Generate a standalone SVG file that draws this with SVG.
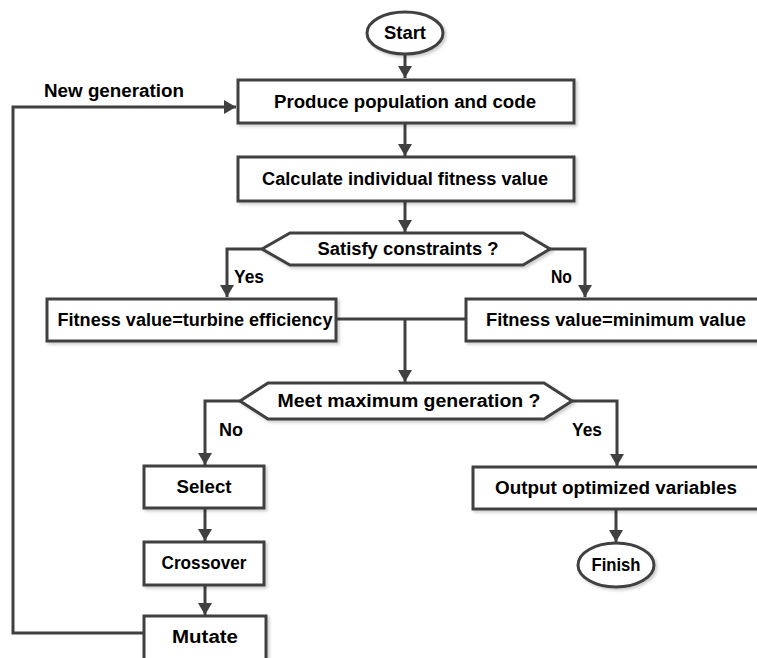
<svg xmlns="http://www.w3.org/2000/svg" width="757" height="658" viewBox="0 0 757 658">
<style>
.n{fill:#fff;stroke:#404040;stroke-width:3;filter:url(#sh)}
.c{fill:none;stroke:#404040;stroke-width:3}
.t{font-family:"Liberation Sans",Arial,sans-serif;font-weight:bold;font-size:18px;fill:#000;text-anchor:middle;dominant-baseline:central}
.l{font-family:"Liberation Sans",Arial,sans-serif;font-weight:bold;font-size:18px;fill:#000}
</style>
<defs>
<marker id="ar" markerUnits="userSpaceOnUse" markerWidth="14" markerHeight="14" refX="12" refY="7" orient="auto">
<path d="M0,0 L12,7 L0,14 Z" fill="#404040"/>
</marker>
<filter id="sh" x="-10%" y="-20%" width="130%" height="150%">
<feDropShadow dx="2" dy="2" stdDeviation="1.5" flood-color="#000" flood-opacity="0.2"/>
</filter>
</defs>
<rect width="757" height="658" fill="#fff"/>
<g id="connectors">
<path class="c" d="M405,54 V78" marker-end="url(#ar)"/>
<path class="c" d="M405,123 V156" marker-end="url(#ar)"/>
<path class="c" d="M405,201 V232" marker-end="url(#ar)"/>
<path class="c" d="M262,249 H227 V297" marker-end="url(#ar)"/>
<path class="c" d="M550,249 H585 V297" marker-end="url(#ar)"/>
<path class="c" d="M336,319 H466"/>
<path class="c" d="M405,319 V382" marker-end="url(#ar)"/>
<path class="c" d="M240,401 H205 V465" marker-end="url(#ar)"/>
<path class="c" d="M572,401 H617 V466" marker-end="url(#ar)"/>
<path class="c" d="M205,508 V541" marker-end="url(#ar)"/>
<path class="c" d="M205,585 V615" marker-end="url(#ar)"/>
<path class="c" d="M616,509 V542" marker-end="url(#ar)"/>
<path class="c" d="M144,633 H13 V107 H236" marker-end="url(#ar)"/>
<text class="l" x="44" y="97" textLength="140" lengthAdjust="spacingAndGlyphs">New generation</text>
<text class="l" x="234" y="283" textLength="30" lengthAdjust="spacingAndGlyphs">Yes</text>
<text class="l" x="551" y="283" textLength="21" lengthAdjust="spacingAndGlyphs">No</text>
<text class="l" x="219" y="436" textLength="24" lengthAdjust="spacingAndGlyphs">No</text>
<text class="l" x="572" y="436" textLength="30" lengthAdjust="spacingAndGlyphs">Yes</text>
</g>
<g id="start"><ellipse class="n" cx="405" cy="33" rx="38" ry="21"/><text class="t" x="405" y="33" textLength="42" lengthAdjust="spacingAndGlyphs">Start</text></g>
<g id="produce"><rect class="n" x="238" y="80" width="336" height="43"/><text class="t" x="405" y="102" textLength="262" lengthAdjust="spacingAndGlyphs">Produce  population and code</text></g>
<g id="calculate"><rect class="n" x="238" y="157" width="336" height="44"/><text class="t" x="405" y="179" textLength="286" lengthAdjust="spacingAndGlyphs">Calculate individual fitness value</text></g>
<g id="satisfy"><polygon class="n" points="262,249 290,233 523,233 550,249 523,265 290,265"/><text class="t" x="408" y="249" textLength="181" lengthAdjust="spacingAndGlyphs">Satisfy constraints ?</text></g>
<g id="turbine"><rect class="n" x="47" y="299" width="289" height="42"/><text class="t" x="195" y="320" textLength="275" lengthAdjust="spacingAndGlyphs">Fitness value=turbine efficiency</text></g>
<g id="minimum"><rect class="n" x="466" y="299" width="300" height="42"/><text class="t" x="616" y="320" textLength="260" lengthAdjust="spacingAndGlyphs">Fitness value=minimum value</text></g>
<g id="meet"><polygon class="n" points="240,401 268,383 544,383 572,401 544,419 268,419"/><text class="t" x="409" y="401" textLength="263" lengthAdjust="spacingAndGlyphs">Meet maximum generation ?</text></g>
<g id="select"><rect class="n" x="144" y="466" width="120" height="42"/><text class="t" x="204" y="487" textLength="55" lengthAdjust="spacingAndGlyphs">Select</text></g>
<g id="crossover"><rect class="n" x="144" y="542" width="120" height="43"/><text class="t" x="204" y="563" textLength="85" lengthAdjust="spacingAndGlyphs">Crossover</text></g>
<g id="mutate"><rect class="n" x="144" y="616" width="122" height="50"/><text class="t" x="205" y="637" textLength="66" lengthAdjust="spacingAndGlyphs">Mutate</text></g>
<g id="output"><rect class="n" x="473" y="467" width="300" height="42"/><text class="t" x="616" y="488" textLength="242" lengthAdjust="spacingAndGlyphs">Output optimized variables</text></g>
<g id="finish"><ellipse class="n" cx="616" cy="565" rx="38" ry="22"/><text class="t" x="616" y="565" textLength="49" lengthAdjust="spacingAndGlyphs">Finish</text></g>
</svg>
